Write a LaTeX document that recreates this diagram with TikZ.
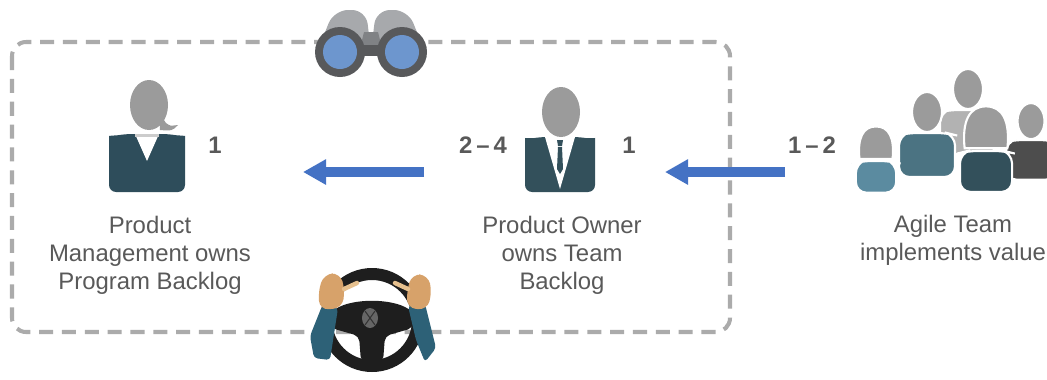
\documentclass[tikz,border=0pt]{standalone}
\usepackage{fontspec}
\setmainfont{Liberation Sans}
\usetikzlibrary{arrows.meta,positioning}

\definecolor{headgray}{HTML}{9B9B9B}
\definecolor{pmteal}{HTML}{2E4D5B}
\definecolor{poteal}{HTML}{33505B}
\definecolor{mateteal}{HTML}{4B7382}
\definecolor{mateblue}{HTML}{5B8BA0}
\definecolor{matedark}{HTML}{4D4D4D}
\definecolor{mateback}{HTML}{B2B2B2}
\definecolor{flowblue}{HTML}{4472C4}
\definecolor{framegray}{HTML}{ABABAB}
\definecolor{textgray}{HTML}{595959}
\definecolor{barrelgray}{HTML}{A7A9AC}
\definecolor{bridgegray}{HTML}{808285}
\definecolor{binodark}{HTML}{58595B}
\definecolor{lensblue}{HTML}{6D96CE}
\definecolor{wheelblack}{HTML}{1E1E1E}
\definecolor{handtan}{HTML}{D7A26A}
\definecolor{thumbtan}{HTML}{E6C08E}
\definecolor{sleeve}{HTML}{2D6177}

\tikzset{
  % one team member, body colour as argument
  mate/.pic={
    \fill[#1, draw=white, line width=1.2pt, rounded corners=6pt]
      (-28,44) -- (-28,2) -- (-20,0) -- (20,0) -- (28,2) -- (28,44) -- cycle;
    \fill[headgray, draw=white, line width=1.2pt] (0,-21) ellipse [x radius=15, y radius=20];
  },
  matehair/.pic={
    \fill[#1, draw=white, line width=1.2pt, rounded corners=6pt]
      (-28,44) -- (-28,2) -- (-20,0) -- (20,0) -- (28,2) -- (28,44) -- cycle;
    \fill[headgray, draw=white, line width=1.2pt]
      (-23,-3) .. controls (-26,-32) and (-18,-48) .. (0,-48)
      .. controls (18,-48) and (26,-32) .. (23,-3) -- cycle;
  },
  pmicon/.pic={
    \fill[pmteal, rounded corners=4pt]
      (-38,59) -- (-38,10) to[out=90,in=190] (-22,1) -- (22,1) to[out=-10,in=90] (38,10) -- (38,59) -- cycle;
    \fill[white] (-12,1) -- (12,1) -- (0,28) -- cycle;
    \fill[black!20] (-12,1) rectangle (12,4);
    \fill[headgray] (12,-20) -- (19,-10) .. controls (23,-7) .. (31,-8)
      .. controls (25,-2) .. (13,-3) -- cycle;
    \fill[headgray] (2,-28) ellipse [x radius=19, y radius=25];
  },
  poicon/.pic={
    \fill[poteal, rounded corners=4pt]
      (-35,55) -- (-35,8) to[out=90,in=190] (-20,0) -- (20,0) to[out=-10,in=90] (35,8) -- (35,55) -- cycle;
    \fill[white] (-15,0) -- (15,0) -- (0,52) -- cycle;
    \fill[poteal] (-3,3) -- (3,3) -- (2,9) -- (-2,9) -- cycle;
    \fill[poteal] (-2,10) -- (2,10) -- (3,32) -- (0,37) -- (-3,32) -- cycle;
    \fill[headgray] (1,-25) ellipse [x radius=19, y radius=25];
  },
  binoculars/.pic={
    \fill[barrelgray, rounded corners=8pt] (-54,0) -- (-37,-42) -- (-5,-42) -- (0,0) -- cycle;
    \fill[barrelgray, rounded corners=8pt] (54,0) -- (37,-42) -- (5,-42) -- (0,0) -- cycle;
    \fill[bridgegray] (-7,-20) -- (7,-20) -- (11,-4) -- (-11,-4) -- cycle;
    \fill[binodark] (-31,-7) rectangle (31,4);
    \foreach \s in {-1,1}{
      \fill[binodark] (31*\s,0) circle (25);
      \fill[lensblue] (31*\s,0) circle (17);
    }
  },
  wheel/.pic={
    \fill[wheelblack, even odd rule] (0,0) circle (52) (0,0) circle (40);
    \fill[wheelblack, rounded corners=3pt]
      (-41,-8) .. controls (-20,-22) and (20,-22) .. (41,-8) -- (41,8)
      -- (13,16) -- (11,42) -- (-11,42) -- (-13,16) -- (-41,8) -- cycle;
    \fill[black!60] (-2,-2) ellipse [x radius=8, y radius=10];
    \draw[black!80, line width=.6pt] (-7,-9) -- (3,5) (3,-9) -- (-7,5);
    % arms
    \fill[sleeve, rounded corners=2pt] (-50,-14) -- (-34,-12) -- (-42,40) -- (-58,38) -- (-62,16) -- cycle;
    \fill[sleeve, rounded corners=2pt] (36,-14) -- (53,-16) -- (64,28) -- (53,42) -- (44,20) -- cycle;
    % hands
    \fill[handtan, rounded corners=5pt] (-54,-28) -- (-48,-46) -- (-32,-47) -- (-27,-30) -- (-30,-12) -- (-52,-10) -- cycle;
    \fill[handtan, rounded corners=5pt] (35,-30) -- (40,-46) -- (56,-45) -- (60,-28) -- (55,-10) -- (35,-12) -- cycle;
    \draw[thumbtan, line width=2.5pt, line cap=round] (-28,-31) -- (-15,-37);
    \draw[thumbtan, line width=2.5pt, line cap=round] (36,-31) -- (23,-37);
  },
}

\begin{document}
\begin{tikzpicture}[
    x=0.02cm, y=-0.02cm,
    lbl/.style={
        align=center,
        inner sep=0pt,
        text=textgray,
        font=\fontsize{13.6}{16}\selectfont
        },
    num/.style={
        inner sep=0pt,
        text=textgray,
        font=\fontsize{13.6}{16}\selectfont\bfseries
        },
    frame/.style={
        draw=framegray,
        line width=2.3pt,
        dash pattern=on 8pt off 5pt,
        rounded corners=8pt
        },
    flow/.style={
        draw=flowblue,
        line width=0.2cm,
        -{Triangle[length=0.46cm,width=0.48cm]}
        },
  ]
  \useasboundingbox (0,0) rectangle (1047,379);
  % Frame round the program level
  \draw[frame] (12,42) rectangle (730,332);
  \pic at (371,52) {binoculars};
  \pic at (372,320) {wheel};
  % People
  \pic at (147,133) {pmicon};
  \pic at (560,137) {poicon};
  \pic at (968,110) {mate=mateback};
  \pic at (927,133) {mate=mateteal};
  \pic[scale=.9] at (1031,140) {mate=matedark};
  \pic[scale=.93] at (986,151) {matehair=poteal};
  \pic[scale=.72] at (876,161) {matehair=mateblue};
  % Counts
  \node[num] (pmcount) at (215,145) {1};
  \node[num] (pocount) at (483,145) {2\,–\,4};
  \node[num] (poone) at (629,145) {1};
  \node[num] (teamcount) at (812,145) {1\,–\,2};
  % Labels
  \node[lbl] (pmlabel) at (150,255) {Product\\Management owns\\Program Backlog};
  \node[lbl] (polabel) at (562,255) {Product Owner\\owns Team\\Backlog};
  \node[lbl] (teamlabel) at (953,240) {Agile Team\\implements value};
  % Flow
  \coordinate (pofrom) at (424,172);
  \coordinate (pmto) at (303,172);
  \coordinate (teamfrom) at (785,172);
  \coordinate (poto) at (665,172);
  \draw[flow] (pofrom) -- (pmto);
  \draw[flow] (teamfrom) -- (poto);
\end{tikzpicture}
\end{document}
